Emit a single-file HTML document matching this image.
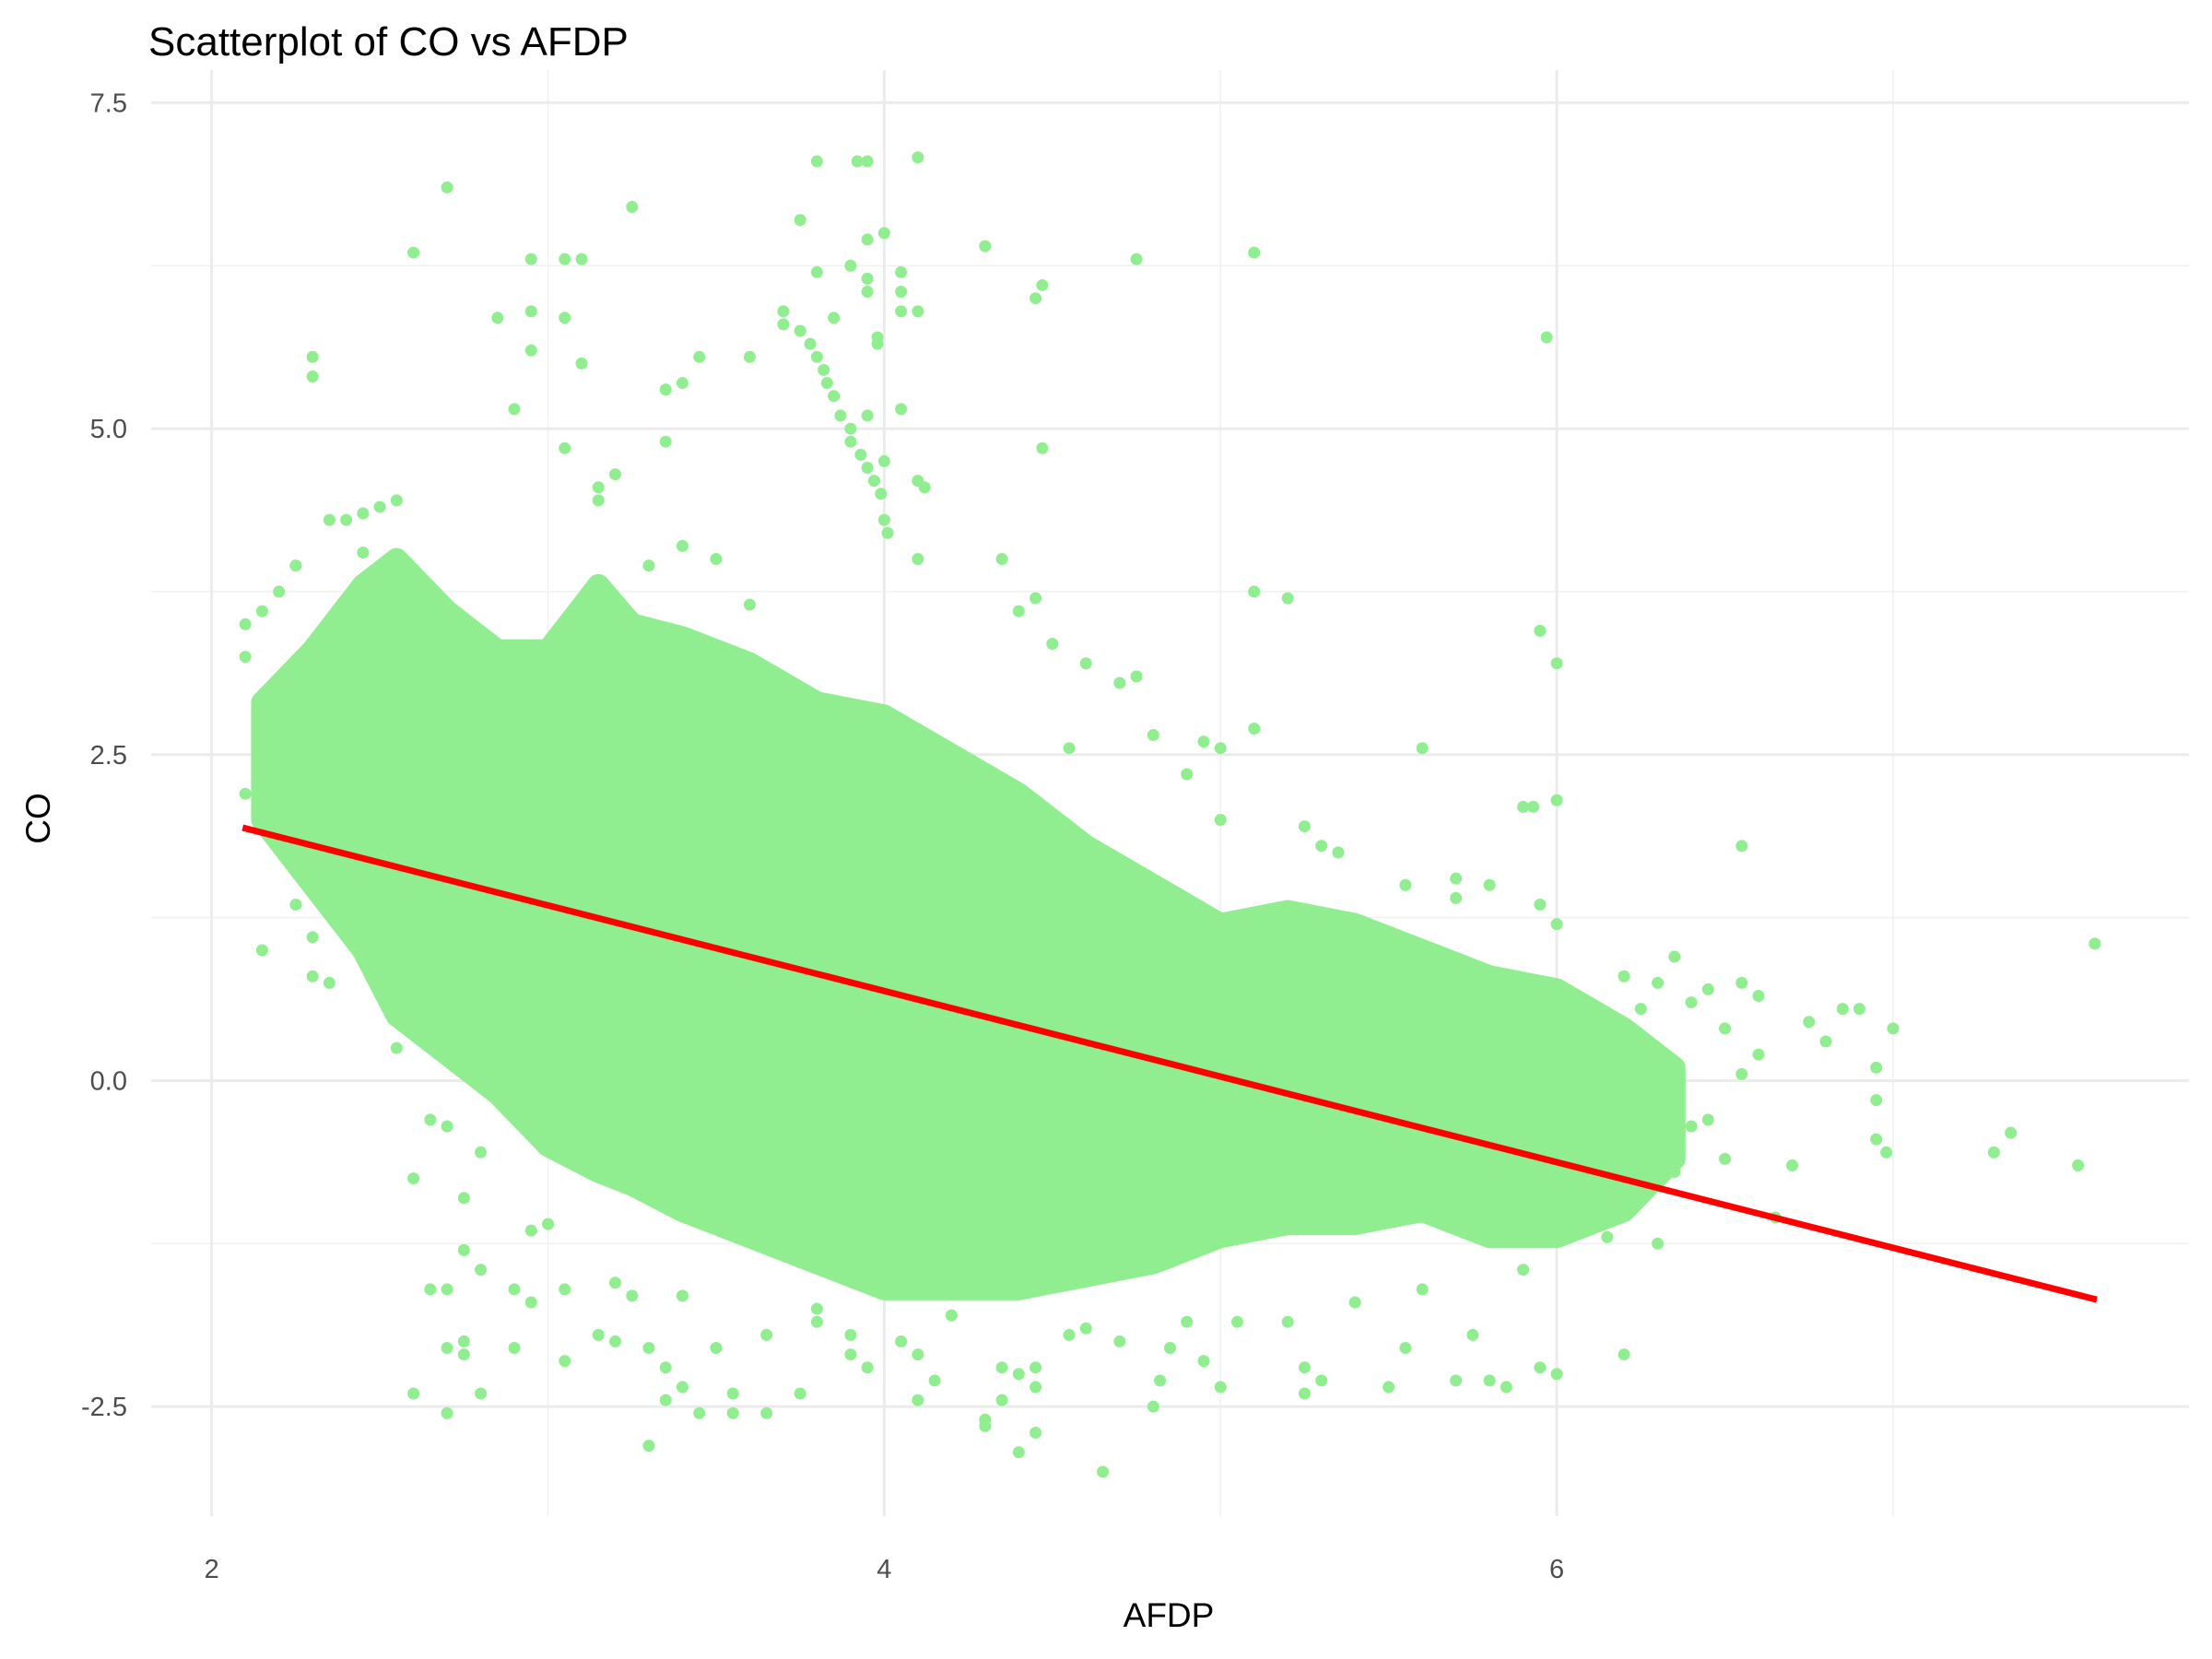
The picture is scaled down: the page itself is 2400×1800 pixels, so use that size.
<!DOCTYPE html>
<html><head><meta charset="utf-8"><style>
html,body{margin:0;padding:0;background:#fff}
svg{display:block;font-family:"Liberation Sans",Arial,sans-serif}
</style></head><body>
<svg id="chart" width="2400" height="1800" viewBox="0 0 2400 1800" xmlns="http://www.w3.org/2000/svg">
<rect width="2400" height="1800" fill="#fff"/>
<g id="grid"></g>
<g id="band"></g>
<g id="pts"></g>
<g id="fit"></g>
<g id="ticks"></g>
<text x="161" y="60" font-size="44" fill="#000">Scatterplot of CO vs AFDP</text>
<text x="1268" y="1765" font-size="37" text-anchor="middle" fill="#000">AFDP</text>
<text transform="translate(54,888) rotate(-90)" font-size="37" text-anchor="middle" fill="#000">CO</text>
</svg>
<script>
const xTicks=[2,4,6];
const xTickLabels=["2","4","6"];
const xMinor=[3,5,7];
const yTicks=[-2.5,0,2.5,5,7.5];
const yTickLabels=["-2.5","0.0","2.5","5.0","7.5"];
const yMinor=[-1.25,1.25,3.75,6.25];
const bandX=[2.15,2.3,2.45,2.55,2.7,2.85,3.0,3.15,3.25,3.4,3.6,3.8,4.0,4.2,4.4,4.6,4.8,5.0,5.2,5.4,5.6,5.8,6.0,6.2,6.35];
const bandHi=[2.9,3.3,3.8,4.0,3.6,3.3,3.3,3.8,3.5,3.4,3.2,2.9,2.8,2.5,2.2,1.8,1.5,1.2,1.3,1.2,1.0,0.8,0.7,0.4,0.1];
const bandLo=[2.0,1.5,1.0,0.5,0.2,-0.1,-0.5,-0.7,-0.8,-1.0,-1.2,-1.4,-1.6,-1.6,-1.6,-1.5,-1.4,-1.2,-1.1,-1.1,-1.0,-1.2,-1.2,-1.0,-0.6];
const ptX=[2.7,2.6,3.25,2.95,3.05,3.1,2.85,2.95,3.05,2.95,3.1,2.3,2.3,2.9,3.05,3.15,3.15,3.2,3.35,3.35,3.4,3.45,3.6,3.7,3.8,3.92,3.95,4.1,3.75,3.8,3.9,3.95,4.0,3.95,3.95,4.05,4.05,4.05,4.1,3.85,3.7,3.75,3.78,3.8,3.82,3.83,3.85,3.87,3.9,3.9,3.93,3.95,3.97,3.99,4.0,4.01,3.95,4.0,4.1,4.12,4.05,3.98,3.98,4.3,4.45,4.47,4.75,5.1,4.47,4.4,4.45,4.35,4.1,5.1,5.2,5.95,6.0,5.97,5.6,5.9,5.93,6.0,6.55,7.6,7.55,7.3,7.35,6.95,6.98,6.95,6.95,7.0,6.9,6.85,6.75,6.8,6.7,6.6,6.55,6.45,6.4,6.3,6.35,6.65,6.5,6.45,6.3,6.2,6.0,5.95,5.85,5.8,5.7,5.75,5.55,5.5,5.3,5.25,5.25,5.0,4.95,4.9,4.85,4.8,4.82,4.7,4.65,4.45,4.45,4.45,4.4,4.4,4.35,4.35,4.3,4.3,4.15,4.1,4.1,4.05,3.95,3.9,3.9,3.8,3.75,3.65,3.65,3.55,3.55,3.5,3.45,3.4,3.35,3.35,3.3,3.3,3.25,3.2,3.15,3.05,3.05,2.9,2.9,2.8,2.8,2.75,2.75,2.75,2.7,2.7,2.6,2.65,2.7,2.75,2.65,2.7,2.6,2.55,2.35,2.3,2.3,2.25,2.15,2.1,2.1,2.1,2.15,2.15,2.2,2.25,2.4,2.45,2.5,2.55,2.45,2.35,3.4,3.5,3.3,3.6,4.5,4.6,4.7,4.75,4.55,4.8,4.95,5.0,4.9,5.0,5.1,5.25,5.35,5.3,5.7,5.8,5.95,6.0,5.55,5.7,6.2,6.25,6.2,6.5,6.6,6.55,6.4,6.35,6.2,6.15,6.1,5.9,5.6,5.4,5.2,5.05,4.6,4.55,4.2,3.8,3.4,3.2,3.0,2.8,2.95,2.95];
const ptY=[6.85,6.35,6.7,6.3,6.3,6.3,5.85,5.9,5.85,5.6,5.5,5.55,5.4,5.15,4.85,4.45,4.55,4.65,4.9,5.3,5.35,5.55,5.55,5.8,7.05,7.05,7.05,7.08,6.6,6.2,6.25,6.45,6.5,6.05,6.15,6.2,6.05,5.9,5.9,5.85,5.9,5.75,5.65,5.55,5.45,5.35,5.25,5.1,5.0,4.9,4.8,4.7,4.6,4.5,4.3,4.2,5.1,4.75,4.6,4.55,5.15,5.7,5.65,6.4,6.0,6.1,6.3,6.35,4.85,3.6,3.7,4.0,4.0,3.75,3.7,3.45,3.2,5.7,2.55,2.1,2.1,2.15,1.8,1.05,-0.65,-0.55,-0.4,-0.45,-0.55,-0.15,0.1,0.4,0.55,0.55,0.45,0.3,-0.65,0.65,0.75,0.7,0.6,0.75,0.95,-1.05,-0.6,-0.3,-1.25,-2.1,-2.25,-2.2,-2.35,-2.3,-2.3,-1.95,-2.05,-2.35,-2.3,-2.2,-2.4,-2.35,-2.15,-1.85,-2.05,-2.5,-2.3,-2.0,-3.0,-2.2,-2.35,-2.7,-2.25,-2.85,-2.2,-2.45,-2.6,-2.65,-2.3,-2.45,-2.1,-2.0,-2.2,-2.1,-1.95,-1.85,-2.4,-2.55,-1.95,-2.4,-2.55,-2.05,-2.55,-2.35,-2.45,-2.2,-2.05,-2.8,-1.65,-2.0,-1.95,-2.15,-1.6,-1.6,-2.05,-2.4,-1.45,-1.3,-2.0,-2.1,-2.05,-2.55,-2.4,-1.6,-1.6,-0.9,-0.3,-0.35,-0.75,0.25,0.75,0.8,1.1,1.35,1.0,2.2,3.25,3.5,2.95,3.6,3.75,3.95,4.3,4.35,4.4,4.45,4.05,4.3,4.1,4.0,3.95,3.65,3.35,3.2,3.05,3.1,2.55,2.65,2.6,2.55,2.35,2.0,2.7,1.95,1.75,1.8,1.55,1.5,1.35,1.2,1.5,1.4,0.8,0.55,0.3,0.4,0.2,0.05,-0.35,-0.7,-1.0,-1.2,-1.05,-1.45,-1.6,-1.7,-1.85,-1.85,-1.9,-1.95,-1.8,-1.75,-1.65,-1.55,-1.1,-0.55,-1.15,-1.7];
const fitX=[2.092,7.606];
const fitY=[1.94,-1.68];

const NS="http://www.w3.org/2000/svg";
const X0=164,X1=2375,Y0=76,Y1=1645;
const xMin=1.82,xMax=7.88,yMin=-3.34,yMax=7.75;
function sx(v){return X0+(v-xMin)/(xMax-xMin)*(X1-X0);}
function sy(v){return Y1-(v-yMin)/(yMax-yMin)*(Y1-Y0);}
function mk(tag,attrs,parent){const e=document.createElementNS(NS,tag);for(const k in attrs)e.setAttribute(k,attrs[k]);parent.appendChild(e);return e;}
const grid=document.getElementById('grid');
xMinor.forEach(v=>{const l=mk('line',{x1:sx(v),x2:sx(v),y1:Y0,y2:Y1,stroke:'#f0f0f0','stroke-width':1.5},grid);

});
yMinor.forEach(v=>{const l=mk('line',{x1:X0,x2:X1,y1:sy(v),y2:sy(v),stroke:'#f0f0f0','stroke-width':1.5},grid);

});
xTicks.forEach(v=>{const l=mk('line',{x1:sx(v),x2:sx(v),y1:Y0,y2:Y1,stroke:'#ebebeb','stroke-width':3},grid);

});
yTicks.forEach(v=>{const l=mk('line',{x1:X0,x2:X1,y1:sy(v),y2:sy(v),stroke:'#ebebeb','stroke-width':3},grid);

});
const ticks=document.getElementById('ticks');
xTicks.forEach((v,i)=>{const t=mk('text',{x:sx(v),y:1712,'font-size':29,'text-anchor':'middle',fill:'#4d4d4d'},ticks);t.textContent=xTickLabels[i];

});
yTicks.forEach((v,i)=>{const t=mk('text',{x:138,y:sy(v)+10,'font-size':29,'text-anchor':'end',fill:'#4d4d4d'},ticks);t.textContent=yTickLabels[i];

});
const band=document.getElementById('band');
let d='';
bandX.forEach((v,i)=>{d+=(i?'L':'M')+sx(v)+','+sy(bandHi[i]);});
for(let i=bandX.length-1;i>=0;i--){d+='L'+sx(bandX[i])+','+sy(bandLo[i]);}
d+='Z';
const bp=mk('path',{d:d,fill:'#90ee90',stroke:'#90ee90','stroke-width':24,'stroke-linejoin':'round'},band);


const pts=document.getElementById('pts');
ptX.forEach((v,i)=>{const c=mk('circle',{cx:sx(v),cy:sy(ptY[i]),r:6.5,fill:'#90ee90'},pts);

});
const fit=document.getElementById('fit');
const fl=mk('line',{x1:sx(fitX[0]),y1:sy(fitY[0]),x2:sx(fitX[1]),y2:sy(fitY[1]),stroke:'#ff0000','stroke-width':7},fit);


</script>
</body></html>
